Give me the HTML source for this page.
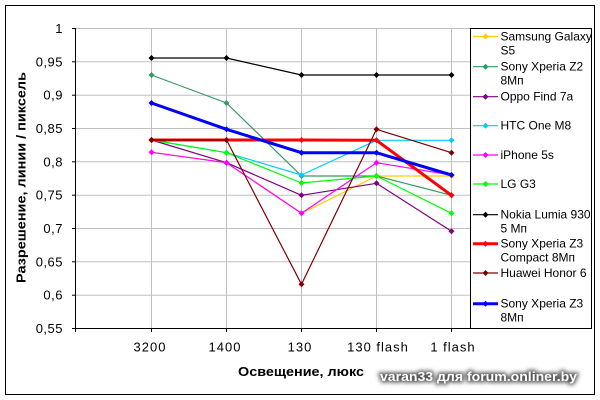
<!DOCTYPE html>
<html>
<head>
<meta charset="utf-8">
<style>
html,body{margin:0;padding:0;background:#fff;}
svg{display:block;}
text{font-family:"Liberation Sans",Arial,sans-serif;}
</style>
</head>
<body>
<svg width="600" height="400" viewBox="0 0 600 400" xmlns="http://www.w3.org/2000/svg">
<defs>
<filter id="glow" x="-10%" y="-50%" width="120%" height="200%">
<feGaussianBlur stdDeviation="2"/>
</filter>
<g id="dm"><path d="M0,-3 L3,0 L0,3 L-3,0 Z"/></g>
</defs>
<rect x="0" y="0" width="600" height="400" fill="#fff"/>
<rect x="5.5" y="5.5" width="589" height="389" fill="#fff" stroke="#000" stroke-width="1"/>

<!-- gridlines -->
<g stroke="#c0c0c0" stroke-width="1">
<line x1="76" y1="28.5" x2="592" y2="28.5"/>
<line x1="76" y1="61.8" x2="592" y2="61.8"/>
<line x1="76" y1="95.2" x2="592" y2="95.2"/>
<line x1="76" y1="128.5" x2="592" y2="128.5"/>
<line x1="76" y1="161.8" x2="592" y2="161.8"/>
<line x1="76" y1="195.2" x2="592" y2="195.2"/>
<line x1="76" y1="228.5" x2="592" y2="228.5"/>
<line x1="76" y1="261.8" x2="592" y2="261.8"/>
<line x1="76" y1="295.2" x2="592" y2="295.2"/>
<line x1="151.5" y1="28" x2="151.5" y2="328"/>
<line x1="226.5" y1="28" x2="226.5" y2="328"/>
<line x1="301.5" y1="28" x2="301.5" y2="328"/>
<line x1="376.5" y1="28" x2="376.5" y2="328"/>
<line x1="451.5" y1="28" x2="451.5" y2="328"/>
</g>

<!-- axes -->
<g stroke="#000" stroke-width="1">
<line x1="75.5" y1="28" x2="75.5" y2="332"/>
<line x1="72" y1="328.5" x2="592" y2="328.5"/>
<line x1="72" y1="28.5" x2="76" y2="28.5"/>
<line x1="72" y1="61.8" x2="76" y2="61.8"/>
<line x1="72" y1="95.2" x2="76" y2="95.2"/>
<line x1="72" y1="128.5" x2="76" y2="128.5"/>
<line x1="72" y1="161.8" x2="76" y2="161.8"/>
<line x1="72" y1="195.2" x2="76" y2="195.2"/>
<line x1="72" y1="228.5" x2="76" y2="228.5"/>
<line x1="72" y1="261.8" x2="76" y2="261.8"/>
<line x1="72" y1="295.2" x2="76" y2="295.2"/>
<line x1="151.5" y1="328" x2="151.5" y2="332"/>
<line x1="226.5" y1="328" x2="226.5" y2="332"/>
<line x1="301.5" y1="328" x2="301.5" y2="332"/>
<line x1="376.5" y1="328" x2="376.5" y2="332"/>
<line x1="451.5" y1="328" x2="451.5" y2="332"/>
</g>

<!-- y tick labels -->
<g font-size="13" text-anchor="end" fill="#000" letter-spacing="0.5">
<text x="63" y="33">1</text>
<text x="63" y="66.5">0,95</text>
<text x="63" y="99.7">0,9</text>
<text x="63" y="133">0,85</text>
<text x="63" y="166.3">0,8</text>
<text x="63" y="199.7">0,75</text>
<text x="63" y="233">0,7</text>
<text x="63" y="266.3">0,65</text>
<text x="63" y="299.7">0,6</text>
<text x="63" y="333">0,55</text>
</g>

<!-- x tick labels -->
<g font-size="13" text-anchor="middle" fill="#000" letter-spacing="1">
<text x="150" y="351.5">3200</text>
<text x="225" y="351.5">1400</text>
<text x="300" y="351.5">130</text>
<text x="378" y="351.5">130 flash</text>
<text x="453" y="351.5">1 flash</text>
</g>

<!-- axis titles -->
<text x="301" y="376" font-size="13" font-weight="bold" text-anchor="middle" textLength="126" lengthAdjust="spacingAndGlyphs">Освещение, люкс</text>
<text transform="translate(25.5,177.5) rotate(-90)" font-size="13" font-weight="bold" text-anchor="middle" textLength="211" lengthAdjust="spacingAndGlyphs">Разрешение, линии / пиксель</text>

<!-- series -->
<g fill="none" stroke-linejoin="round">
<!-- Samsung -->
<polyline stroke="#ffcc00" stroke-width="1.2" points="151.5,152.3 226.5,162.7 301.5,213.3 376.5,176 451.5,176"/>
<g fill="#ffcc00"><use href="#dm" x="151.5" y="152.3"/><use href="#dm" x="226.5" y="162.7"/><use href="#dm" x="301.5" y="213.3"/><use href="#dm" x="376.5" y="176"/><use href="#dm" x="451.5" y="176"/></g>
<!-- Sony Z2 -->
<polyline stroke="#339966" stroke-width="1.2" points="151.5,75 226.5,103 301.5,176 376.5,176 451.5,195.3"/>
<g fill="#339966"><use href="#dm" x="151.5" y="75"/><use href="#dm" x="226.5" y="103"/><use href="#dm" x="301.5" y="176"/><use href="#dm" x="376.5" y="176"/><use href="#dm" x="451.5" y="195.3"/></g>
<!-- Oppo -->
<polyline stroke="#800080" stroke-width="1.2" points="151.5,140 226.5,162.7 301.5,195.3 376.5,183.3 451.5,231.3"/>
<g fill="#800080"><use href="#dm" x="151.5" y="140"/><use href="#dm" x="226.5" y="162.7"/><use href="#dm" x="301.5" y="195.3"/><use href="#dm" x="376.5" y="183.3"/><use href="#dm" x="451.5" y="231.3"/></g>
<!-- HTC -->
<polyline stroke="#00ccff" stroke-width="1.2" points="151.5,140 226.5,152.7 301.5,175 376.5,140.3 451.5,140.3"/>
<g fill="#00ccff"><use href="#dm" x="151.5" y="140"/><use href="#dm" x="226.5" y="152.7"/><use href="#dm" x="301.5" y="175"/><use href="#dm" x="376.5" y="140.3"/><use href="#dm" x="451.5" y="140.3"/></g>
<!-- iPhone -->
<polyline stroke="#ff00ff" stroke-width="1.2" points="151.5,152.3 226.5,162.7 301.5,213.3 376.5,162.7 451.5,175"/>
<g fill="#ff00ff"><use href="#dm" x="151.5" y="152.3"/><use href="#dm" x="226.5" y="162.7"/><use href="#dm" x="301.5" y="213.3"/><use href="#dm" x="376.5" y="162.7"/><use href="#dm" x="451.5" y="175"/></g>
<!-- LG -->
<polyline stroke="#00ff00" stroke-width="1.2" points="151.5,140 226.5,152.7 301.5,183 376.5,176 451.5,213.3"/>
<g fill="#00ff00"><use href="#dm" x="151.5" y="140"/><use href="#dm" x="226.5" y="152.7"/><use href="#dm" x="301.5" y="183"/><use href="#dm" x="376.5" y="176"/><use href="#dm" x="451.5" y="213.3"/></g>
<!-- Nokia -->
<polyline stroke="#000000" stroke-width="1.2" points="151.5,58 226.5,58 301.5,75 376.5,75 451.5,75"/>
<g fill="#000"><use href="#dm" x="151.5" y="58"/><use href="#dm" x="226.5" y="58"/><use href="#dm" x="301.5" y="75"/><use href="#dm" x="376.5" y="75"/><use href="#dm" x="451.5" y="75"/></g>
<!-- Sony Z3 Compact -->
<polyline stroke="#ff0000" stroke-width="3" points="151.5,140 226.5,140 301.5,140 376.5,140.3 451.5,195.3"/>
<g fill="#ff0000"><use href="#dm" x="151.5" y="140"/><use href="#dm" x="226.5" y="140"/><use href="#dm" x="301.5" y="140"/><use href="#dm" x="376.5" y="140.3"/><use href="#dm" x="451.5" y="195.3"/></g>
<!-- Huawei -->
<polyline stroke="#800000" stroke-width="1.2" points="151.5,140 226.5,140 301.5,284.3 376.5,129.3 451.5,152.7"/>
<g fill="#800000"><use href="#dm" x="151.5" y="140"/><use href="#dm" x="226.5" y="140"/><use href="#dm" x="301.5" y="284.3"/><use href="#dm" x="376.5" y="129.3"/><use href="#dm" x="451.5" y="152.7"/></g>
<!-- Sony Z3 -->
<polyline stroke="#0000ff" stroke-width="3" points="151.5,103 226.5,129.3 301.5,152.7 376.5,152.7 451.5,175"/>
<g fill="#0000ff"><use href="#dm" x="151.5" y="103"/><use href="#dm" x="226.5" y="129.3"/><use href="#dm" x="301.5" y="152.7"/><use href="#dm" x="376.5" y="152.7"/><use href="#dm" x="451.5" y="175"/></g>
</g>

<!-- legend -->
<rect x="470.5" y="28.5" width="121" height="300" fill="#fff" stroke="#000" stroke-width="1"/>
<g font-size="12" fill="#000">
<line x1="473" y1="36.5" x2="498" y2="36.5" stroke="#ffcc00" stroke-width="1.2"/><use href="#dm" x="485.5" y="36.5" fill="#ffcc00"/>
<text x="500.5" y="40.5">Samsung Galaxy</text><text x="500.5" y="54.5">S5</text>

<line x1="473" y1="66.7" x2="498" y2="66.7" stroke="#339966" stroke-width="1.2"/><use href="#dm" x="485.5" y="66.7" fill="#339966"/>
<text x="500.5" y="70.7">Sony Xperia Z2</text><text x="500.5" y="84.7">8Мп</text>

<line x1="473" y1="96.7" x2="498" y2="96.7" stroke="#800080" stroke-width="1.2"/><use href="#dm" x="485.5" y="96.7" fill="#800080"/>
<text x="500.5" y="100.7">Oppo Find 7a</text>

<line x1="473" y1="125.7" x2="498" y2="125.7" stroke="#00ccff" stroke-width="1.2"/><use href="#dm" x="485.5" y="125.7" fill="#00ccff"/>
<text x="500.5" y="129.7">HTC One M8</text>

<line x1="473" y1="155" x2="498" y2="155" stroke="#ff00ff" stroke-width="1.2"/><use href="#dm" x="485.5" y="155" fill="#ff00ff"/>
<text x="500.5" y="159">iPhone 5s</text>

<line x1="473" y1="184" x2="498" y2="184" stroke="#00ff00" stroke-width="1.2"/><use href="#dm" x="485.5" y="184" fill="#00ff00"/>
<text x="500.5" y="188">LG G3</text>

<line x1="473" y1="214.7" x2="498" y2="214.7" stroke="#000" stroke-width="1.2"/><use href="#dm" x="485.5" y="214.7" fill="#000"/>
<text x="500.5" y="218.7">Nokia Lumia 930</text><text x="500.5" y="232.7">5 Мп</text>

<line x1="473" y1="243.7" x2="498" y2="243.7" stroke="#ff0000" stroke-width="3"/><use href="#dm" x="485.5" y="243.7" fill="#ff0000"/>
<text x="500.5" y="247.7">Sony Xperia Z3</text><text x="500.5" y="261.7">Compact 8Мп</text>

<line x1="473" y1="273" x2="498" y2="273" stroke="#800000" stroke-width="1.2"/><use href="#dm" x="485.5" y="273" fill="#800000"/>
<text x="500.5" y="277">Huawei Honor 6</text>

<line x1="473" y1="303.7" x2="498" y2="303.7" stroke="#0000ff" stroke-width="3"/><use href="#dm" x="485.5" y="303.7" fill="#0000ff"/>
<text x="500.5" y="307.7">Sony Xperia Z3</text><text x="500.5" y="321.7">8Мп</text>
</g>

<!-- watermark -->
<g font-size="12.5" font-weight="bold">
<text x="380" y="381" fill="#555" stroke="#555" stroke-width="3" filter="url(#glow)" textLength="197" lengthAdjust="spacingAndGlyphs">varan33 для forum.onliner.by</text>
<text x="380" y="381" fill="#fff" textLength="197" lengthAdjust="spacingAndGlyphs">varan33 для forum.onliner.by</text>
</g>
</svg>
</body>
</html>
